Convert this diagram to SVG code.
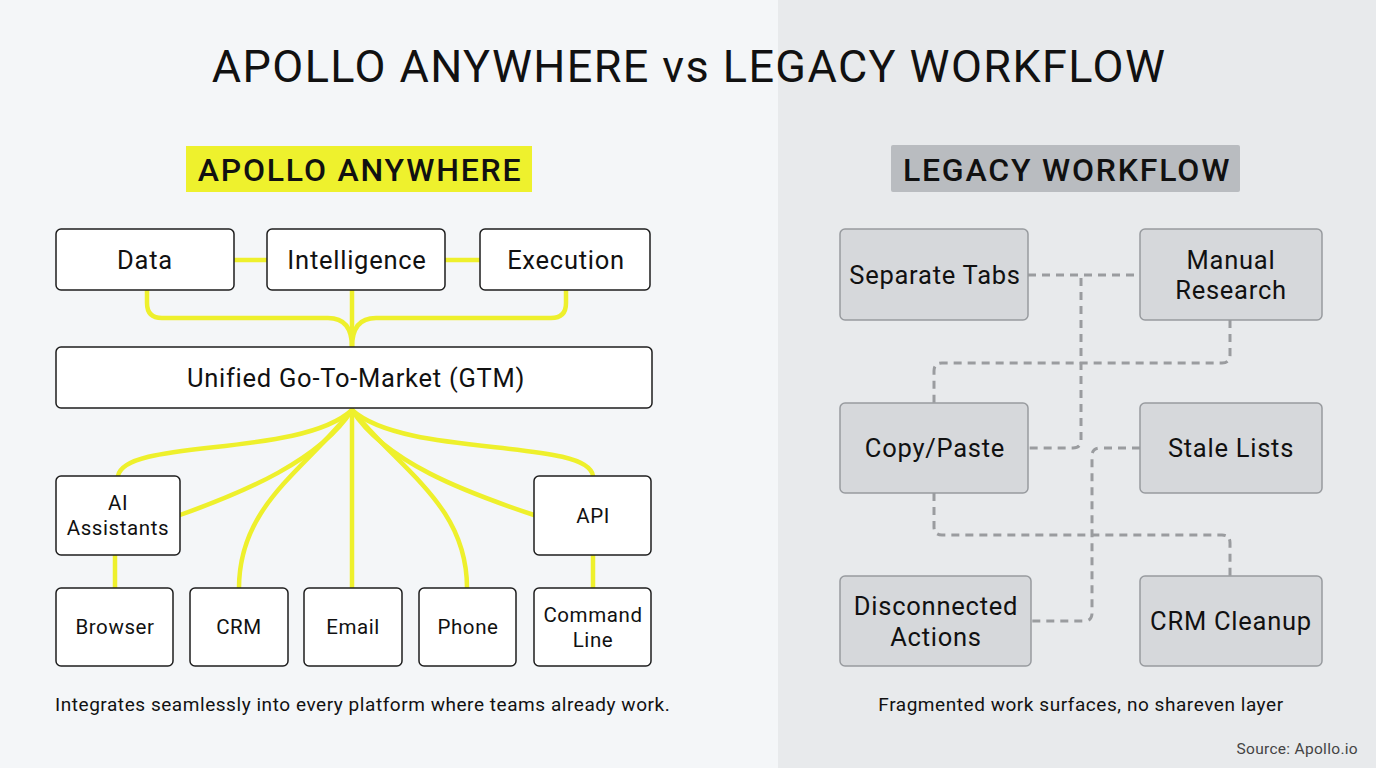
<svg xmlns="http://www.w3.org/2000/svg" width="1376" height="768" viewBox="0 0 1376 768">
<style>
.t{font-family:Roboto,"Liberation Sans",sans-serif;fill:#111}
.b{font-size:25.5px;letter-spacing:0.75px}
.s{font-size:20.5px;letter-spacing:0.6px}
.c{font-size:19px;letter-spacing:0.55px}
.h{font-size:32px;font-weight:500;letter-spacing:1.8px}
.nl{fill:#fff;stroke:#1e1e1e;stroke-width:1.5}
.nr{fill:#d6d8db;stroke:#989b9f;stroke-width:1.5}
.y{fill:none;stroke:#eef02c;stroke-width:4.5;stroke-linecap:round}
.d{fill:none;stroke:#9a9c9f;stroke-width:3;stroke-dasharray:8 6}
</style>
<rect x="0" y="0" width="778" height="768" fill="#f4f6f8"/>
<rect x="778" y="0" width="598" height="768" fill="#e8eaec"/>
<text class="t" x="689" y="82" font-size="45" letter-spacing="1.4" text-anchor="middle">APOLLO ANYWHERE vs LEGACY WORKFLOW</text>

<g id="header-left"><rect x="186" y="146" width="346" height="46" fill="#eef12d"/><text class="t h" x="360" y="181" text-anchor="middle">APOLLO ANYWHERE</text></g>
<g id="header-right"><rect x="891" y="145" width="349" height="47" rx="2" fill="#b9bcc0"/><text class="t h" x="1067" y="181" text-anchor="middle">LEGACY WORKFLOW</text></g>

<g id="connectors">
<path class="y" d="M234,260 H267 M445,260 H480"/>
<path class="y" d="M147,290 V303 Q147,318 162,318 H328 Q352,318 352,347"/>
<path class="y" d="M566,290 V303 Q566,318 551,318 H376 Q352,318 352,347"/>
<path class="y" d="M352,290 V347"/>
<path class="y" d="M352,410 C300,458 125,438 118,476"/>
<path class="y" d="M352,410 C320,460 245,492 180,515"/>
<path class="y" d="M352,410 C305,470 239,505 239,588"/>
<path class="y" d="M352,410 V588"/>
<path class="y" d="M352,410 C400,470 467,505 467,588"/>
<path class="y" d="M352,410 C385,462 465,492 534,515"/>
<path class="y" d="M352,410 C405,458 588,438 593,476"/>
<path class="y" d="M115,555 V588 M593,555 V588"/>
<path class="d" d="M1028,275 H1140"/>
<path class="d" d="M1081,278 V440 Q1081,448 1073,448 H1028"/>
<path class="d" d="M1230,320 V355 Q1230,363 1222,363 H942 Q934,363 934,371 V403"/>
<path class="d" d="M1140,448 H1100 Q1092,448 1092,456 V613 Q1092,621 1084,621 H1031"/>
<path class="d" d="M934,493 V527 Q934,535 942,535 H1222 Q1230,535 1230,543 V576"/>
</g>

<g id="data"><rect class="nl" x="56" y="229" width="178" height="61" rx="5"/><text class="t b" x="145" y="269" text-anchor="middle">Data</text></g>
<g id="intelligence"><rect class="nl" x="267" y="229" width="178" height="61" rx="5"/><text class="t b" x="357" y="269" text-anchor="middle">Intelligence</text></g>
<g id="execution"><rect class="nl" x="480" y="229" width="170" height="61" rx="5"/><text class="t b" x="566" y="269" text-anchor="middle">Execution</text></g>
<g id="gtm"><rect class="nl" x="56" y="347" width="596" height="61" rx="5"/><text class="t b" x="356" y="387" text-anchor="middle">Unified Go-To-Market (GTM)</text></g>
<g id="ai"><rect class="nl" x="56" y="476" width="124" height="79" rx="5"/><text class="t s" x="118" y="510" text-anchor="middle">AI</text><text class="t s" x="118" y="535" text-anchor="middle">Assistants</text></g>
<g id="api"><rect class="nl" x="534" y="476" width="117" height="79" rx="5"/><text class="t s" x="593" y="523" text-anchor="middle">API</text></g>
<g id="browser"><rect class="nl" x="56" y="588" width="117" height="78" rx="5"/><text class="t s" x="115" y="634" text-anchor="middle">Browser</text></g>
<g id="crm"><rect class="nl" x="190" y="588" width="98" height="78" rx="5"/><text class="t s" x="239" y="634" text-anchor="middle">CRM</text></g>
<g id="email"><rect class="nl" x="304" y="588" width="98" height="78" rx="5"/><text class="t s" x="353" y="634" text-anchor="middle">Email</text></g>
<g id="phone"><rect class="nl" x="419" y="588" width="97" height="78" rx="5"/><text class="t s" x="468" y="634" text-anchor="middle">Phone</text></g>
<g id="cli"><rect class="nl" x="534" y="588" width="117" height="78" rx="5"/><text class="t s" x="593" y="622" text-anchor="middle">Command</text><text class="t s" x="593" y="647" text-anchor="middle">Line</text></g>
<text class="t c" x="55" y="711">Integrates seamlessly into every platform where teams already work.</text>

<g id="separate-tabs"><rect class="nr" x="840" y="229" width="188" height="91" rx="5"/><text class="t b" x="935" y="284" text-anchor="middle">Separate Tabs</text></g>
<g id="manual-research"><rect class="nr" x="1140" y="229" width="182" height="91" rx="5"/><text class="t b" x="1231" y="269" text-anchor="middle">Manual</text><text class="t b" x="1231" y="299" text-anchor="middle">Research</text></g>
<g id="copy-paste"><rect class="nr" x="840" y="403" width="188" height="90" rx="5"/><text class="t b" x="935" y="457" text-anchor="middle">Copy/Paste</text></g>
<g id="stale-lists"><rect class="nr" x="1140" y="403" width="182" height="90" rx="5"/><text class="t b" x="1231" y="457" text-anchor="middle">Stale Lists</text></g>
<g id="disconnected"><rect class="nr" x="840" y="576" width="191" height="90" rx="5"/><text class="t b" x="936" y="615" text-anchor="middle">Disconnected</text><text class="t b" x="936" y="646" text-anchor="middle">Actions</text></g>
<g id="crm-cleanup"><rect class="nr" x="1140" y="576" width="182" height="90" rx="5"/><text class="t b" x="1231" y="630" text-anchor="middle">CRM Cleanup</text></g>
<text class="t c" x="1081" y="711" text-anchor="middle">Fragmented work surfaces, no shareven layer</text>
<text class="t" x="1358" y="754" font-size="15.5" letter-spacing="0.3" text-anchor="end" style="fill:#444">Source: Apollo.io</text>
</svg>
